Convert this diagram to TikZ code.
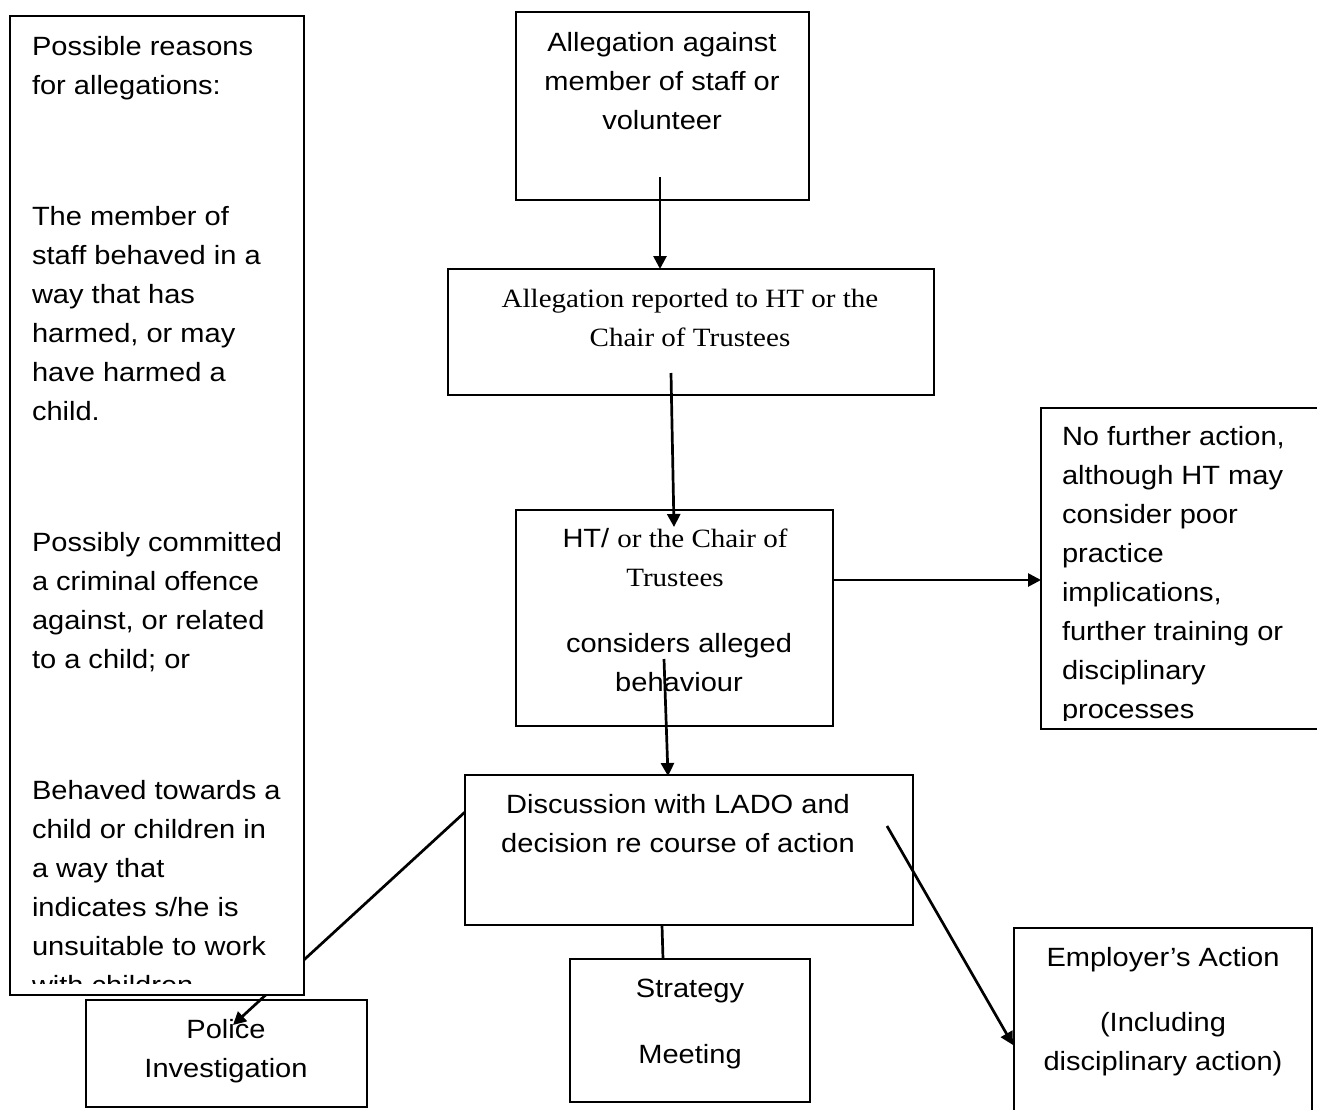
\documentclass[tikz,border=0pt]{standalone}
\usepackage{fontspec}
\setmainfont{Liberation Sans}[FakeStretch=1.1]
\newfontfamily\serifface{Liberation Serif}[FakeStretch=1.1]
\usetikzlibrary{arrows.meta}
\newcommand\tlines[2]{\begin{tabular}[t]{@{}#1@{}}#2\end{tabular}}
\newcommand\fsz{\fontsize{26.4}{39}\selectfont}
\begin{document}
\begin{tikzpicture}[x=1pt,y=-1pt,
  box/.style={draw, line width=2pt, anchor=north west, inner sep=0pt, outer sep=0pt},
  txt/.style={inner sep=0pt, outer sep=0pt, font=\fsz, anchor=base},
  ltxt/.style={txt, anchor=base west},
  arr/.style={line width=2.7pt, -{Triangle[length=13pt,width=13pt]}},
  plain/.style={line width=2.7pt}]
\fill[white] (0,0) rectangle (1317,1109);
\useasboundingbox (0,0) rectangle (1317,1109);

% boxes
\node[box, minimum width=293pt, minimum height=188pt] (top) at (516,12) {};
\node[txt] (toptext) at (662,51) {\tlines{c}{Allegation against\\member of staff or\\volunteer}};

\node[box, minimum width=486pt, minimum height=126pt] (report) at (448,269) {};
\node[txt] (reporttext) at (690,307) {\serifface\tlines{c}{Allegation reported to HT or the\\Chair of Trustees}};

\node[box, minimum width=317pt, minimum height=216pt] (consider) at (516,510) {};
\node[txt] (considertexta) at (675,547) {\tlines{c}{HT/ {\serifface or the Chair of}\\{\serifface Trustees}}};
\node[txt] (considertextb) at (679,652) {\tlines{c}{considers alleged\\behaviour}};

\node[box, minimum width=280pt, minimum height=321pt] (nofurther) at (1041,408) {};
\begin{scope}
\clip (1042,409) rectangle (1315,720);
\node[ltxt] (nofurthertext) at (1062,445) {\tlines{l}{No further action,\\although HT may\\consider poor\\practice\\implications,\\further training or\\disciplinary\\processes}};
\end{scope}

\node[box, minimum width=448pt, minimum height=150pt] (lado) at (465,775) {};
\node[txt] (ladotext) at (678,813) {\tlines{c}{Discussion with LADO and\\decision re course of action}};

\node[box, minimum width=240pt, minimum height=143pt] (strategy) at (570,959) {};
\node[txt] (strategytext) at (690,997) {\tlines{c}{Strategy\\[27pt]Meeting}};

\node[box, minimum width=281pt, minimum height=107pt] (police) at (86,1000) {};
\node[txt] (policetext) at (226,1038) {\tlines{c}{Police\\Investigation}};

\node[box, minimum width=298pt, minimum height=200pt] (employer) at (1014,928) {};
\node[txt] (employertext) at (1163,966) {\tlines{c}{Employer’s Action\\[26pt](Including\\disciplinary action)}};

% connector coordinates
\coordinate (a1s) at (660,177);
\coordinate (a1e) at (660,269);
\coordinate (a2s) at (671,373);
\coordinate (a2e) at (674,527);
\coordinate (a3s) at (833,580);
\coordinate (a3e) at (1041,580);
\coordinate (a4s) at (664,659);
\coordinate (a4e) at (668,776);
\coordinate (a5s) at (465,812);
\coordinate (a5e) at (233,1025);
\coordinate (a6s) at (887,826);
\coordinate (a6e) at (1013,1045);
\coordinate (l1s) at (662,925);
\coordinate (l1e) at (663,959);

\draw[arr] (a1s) -- (a1e);
\draw[arr] (a2s) -- (a2e);
\draw[arr] (a3s) -- (a3e);
\draw[arr] (a4s) -- (a4e);
\draw[arr] (a5s) -- (a5e);
\draw[arr] (a6s) -- (a6e);
\draw[plain] (l1s) -- (l1e);

% left box over the police connector
\node[box, fill=white, minimum width=294pt, minimum height=979pt] (reasons) at (10,16) {};
\begin{scope}
\clip (11,17) rectangle (303,983);
\node[ltxt] (reasonstext) at (32,55) {\tlines{l}{Possible reasons\\for allegations:\\[92pt]The member of\\staff behaved in a\\way that has\\harmed, or may\\have harmed a\\child.\\[92pt]Possibly committed\\a criminal offence\\against, or related\\to a child; or\\[92pt]Behaved towards a\\child or children in\\a way that\\indicates s/he is\\unsuitable to work\\with children}};
\end{scope}
\end{tikzpicture}
\end{document}
